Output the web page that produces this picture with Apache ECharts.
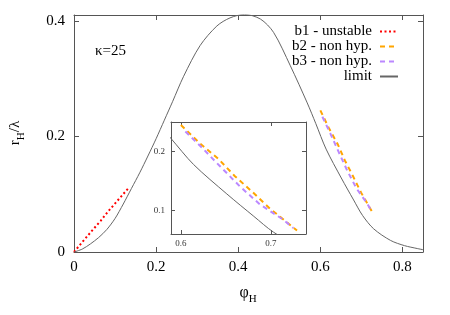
<!DOCTYPE html>
<html>
<head>
<meta charset="utf-8">
<script src="https://cdn.jsdelivr.net/npm/echarts@6/dist/echarts.min.js"></script>
<style>html,body{margin:0;padding:0;background:#fff}#c{width:450px;height:315px}</style>
</head>
<body>
<div id="c"></div>
<script>
const limitX = [0, 0.02, 0.04, 0.06, 0.08, 0.1, 0.12, 0.14, 0.16, 0.18, 0.2, 0.22, 0.24, 0.267, 0.307, 0.348, 0.38, 0.415, 0.454, 0.486, 0.527, 0.568, 0.589, 0.614, 0.651, 0.681, 0.703, 0.73, 0.771, 0.805, 0.836, 0.85];
const limitY = [0, 0.005, 0.014, 0.025, 0.039, 0.058, 0.083, 0.110, 0.137, 0.166, 0.196, 0.228, 0.26, 0.304, 0.357, 0.391, 0.405, 0.411, 0.403, 0.380, 0.322, 0.258, 0.222, 0.178, 0.128, 0.090, 0.063, 0.040, 0.020, 0.011, 0.006, 0.004];
const b1X = [0, 0.02, 0.044, 0.065, 0.083, 0.105, 0.132];
const b1Y = [0, 0.017, 0.037, 0.054, 0.070, 0.088, 0.110];
const b2X = [0.6, 0.621, 0.642, 0.660, 0.679, 0.699, 0.729];
const b2Y = [0.245, 0.214, 0.187, 0.158, 0.132, 0.103, 0.066];
const b3X = [0.605, 0.625, 0.644, 0.666, 0.688, 0.714, 0.725];
const b3Y = [0.234, 0.204, 0.174, 0.140, 0.110, 0.084, 0.070];
const mainXTicks = [0, 0.2, 0.4, 0.6, 0.8];
const mainYTicks = [0, 0.2, 0.4];
const insetXTicks = [0.6, 0.7];
const insetYTicks = [0.1, 0.2];
const names = ['b1 - unstable', 'b2 - non hyp.', 'b3 - non hyp.', 'limit'];

const pairs = (xs, ys) => xs.map((x, i) => [x, ys[i]]);
const F = 'Liberation Serif';
const frame = '#555';

function axisBase(extra) {
  return Object.assign({
    axisLine: { show: true, onZero: false, lineStyle: { color: frame, width: 1 } },
    axisTick: { show: true, inside: true, length: 5, lineStyle: { color: frame } },
    splitLine: { show: false },
    axisLabel: { show: false }
  }, extra);
}

const styles = {
  b1: { color: '#ff0000', width: 2, type: [2, 2.5] },
  b2: { color: '#ffa500', width: 2, type: [5, 4] },
  b3: { color: '#bb88ff', width: 2, type: [5, 4] },
  limit: { color: '#666666', width: 1, type: 'solid' }
};

function ser(name, data, st, xi, yi, z) {
  return {
    type: 'line', name: name, data: data, xAxisIndex: xi, yAxisIndex: yi,
    showSymbol: false, symbol: 'none', smooth: name === 'limit' ? 0.3 : false,
    lineStyle: { color: st.color, width: st.width, type: st.type, cap: 'butt' },
    itemStyle: { color: st.color }, z: z, animation: false, clip: true
  };
}

const chart = echarts.init(document.getElementById('c'), null, { renderer: 'canvas' });
chart.setOption({
  animation: false,
  backgroundColor: '#fff',
  grid: [
    { left: 74, right: 27, top: 15, bottom: 63 },
    { left: 171, right: 144, top: 122, bottom: 81, show: true, backgroundColor: '#fff', borderWidth: 0, z: 3 }
  ],
  xAxis: [
    axisBase({ type: 'value', gridIndex: 0, position: 'bottom', min: 0, max: 0.85, interval: 0.2,
      axisLabel: { show: true, margin: 8, fontFamily: F, fontSize: 15, color: '#000', customValues: mainXTicks },
      axisTick: { show: true, inside: true, length: 5, lineStyle: { color: frame }, customValues: mainXTicks } }),
    axisBase({ type: 'value', gridIndex: 0, position: 'top', min: 0, max: 0.85, interval: 0.2,
      axisTick: { show: true, inside: true, length: 5, lineStyle: { color: frame }, customValues: mainXTicks } }),
    axisBase({ type: 'value', gridIndex: 1, position: 'bottom', min: 0.589, max: 0.739, z: 5,
      axisLabel: { show: true, margin: 5, fontFamily: F, fontSize: 9, color: '#333', customValues: insetXTicks },
      axisTick: { show: true, inside: true, length: 4, lineStyle: { color: frame }, customValues: insetXTicks } }),
    axisBase({ type: 'value', gridIndex: 1, position: 'top', min: 0.589, max: 0.739, z: 5,
      axisTick: { show: true, inside: true, length: 4, lineStyle: { color: frame }, customValues: insetXTicks } })
  ],
  yAxis: [
    axisBase({ type: 'value', gridIndex: 0, position: 'left', min: 0, max: 0.41, interval: 0.2,
      axisLabel: { show: true, margin: 9, fontFamily: F, fontSize: 15, color: '#000', customValues: mainYTicks },
      axisTick: { show: true, inside: true, length: 5, lineStyle: { color: frame }, customValues: mainYTicks } }),
    axisBase({ type: 'value', gridIndex: 0, position: 'right', min: 0, max: 0.41, interval: 0.2,
      axisTick: { show: true, inside: true, length: 5, lineStyle: { color: frame }, customValues: mainYTicks } }),
    axisBase({ type: 'value', gridIndex: 1, position: 'left', min: 0.06, max: 0.25, z: 5,
      axisLabel: { show: true, margin: 6, fontFamily: F, fontSize: 9, color: '#333', customValues: insetYTicks },
      axisTick: { show: true, inside: true, length: 4, lineStyle: { color: frame }, customValues: insetYTicks } }),
    axisBase({ type: 'value', gridIndex: 1, position: 'right', min: 0.06, max: 0.25, z: 5,
      axisTick: { show: true, inside: true, length: 4, lineStyle: { color: frame }, customValues: insetYTicks } })
  ],
  legend: {
    data: names, orient: 'vertical', right: 46, top: 19, align: 'right',
    itemWidth: 18, itemHeight: 10, itemGap: 0, selectedMode: false,
    itemStyle: { opacity: 0 },
    textStyle: { fontFamily: F, fontSize: 15, lineHeight: 15, color: '#000', padding: [0, 3, 0, 0] }
  },
  graphic: [
    { type: 'text', x: 95, y: 51, style: { text: 'κ=25', font: '15px "Liberation Serif"', fill: '#000', align: 'left', verticalAlign: 'middle' } },
    { type: 'text', x: 248, y: 291, style: {
        text: '{a|φ}{s|H}', fill: '#000', align: 'center', verticalAlign: 'middle',
        rich: { a: { fontFamily: F, fontSize: 16, lineHeight: 20, verticalAlign: 'bottom' },
                s: { fontFamily: F, fontSize: 11, lineHeight: 14, verticalAlign: 'bottom', padding: [0, 0, -4, 0] } } } },
    { type: 'text', x: 13, y: 133, rotation: Math.PI / 2, style: {
        text: '{a|r}{s|H}{a|/λ}', fill: '#000', align: 'center', verticalAlign: 'middle',
        rich: { a: { fontFamily: F, fontSize: 15, lineHeight: 20, verticalAlign: 'bottom' },
                s: { fontFamily: F, fontSize: 11, lineHeight: 14, verticalAlign: 'bottom', padding: [0, 0, -4, 0] } } } }
  ],
  series: [
    ser(names[0], pairs(b1X, b1Y), styles.b1, 0, 0, 2),
    ser(names[1], pairs(b2X, b2Y), styles.b2, 0, 0, 2),
    ser(names[2], pairs(b3X, b3Y), styles.b3, 0, 0, 2),
    ser(names[3], pairs(limitX, limitY), styles.limit, 0, 0, 2),
    ser(names[1], pairs(b2X, b2Y), styles.b2, 2, 2, 6),
    ser(names[2], pairs(b3X, b3Y), styles.b3, 2, 2, 6),
    ser(names[3], pairs(limitX, limitY), styles.limit, 2, 2, 6)
  ]
});
</script>
</body>
</html>
